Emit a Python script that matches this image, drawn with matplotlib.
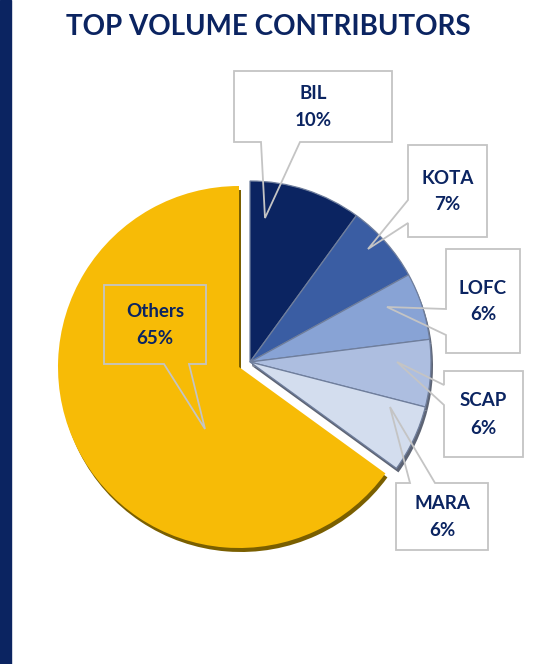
import matplotlib.pyplot as plt
from matplotlib.patches import Polygon, Rectangle

W, H = 556, 664

# data
labels = ["BIL", "KOTA", "LOFC", "SCAP", "MARA", "Others"]
shares = [10, 7, 6, 6, 6, 65]
colors = ["#0b2461", "#3a5da3", "#88a3d5", "#adbee0", "#d3ddee", "#f7bb06"]
shadow_colors = ["#5d6474"] * 5 + ["#7a5f00"]

NAVY = "#0b2461"
EDGE = "#c4c4c4"
FONT = "Lato"

# layout in pixel coords (y down): box (x0, y0, x1, y1), pointer side, pointer base, tip
callouts = {
    "BIL": dict(box=(234, 71, 392, 142), side="bottom", base=(261, 300), tip=(265, 218)),
    "KOTA": dict(box=(408, 145, 487, 237), side="left", base=(200, 223), tip=(368, 249)),
    "LOFC": dict(box=(446, 249, 520, 353), side="left", base=(309, 335), tip=(387, 307)),
    "SCAP": dict(box=(444, 371, 523, 457), side="left", base=(385, 405), tip=(397, 362)),
    "MARA": dict(box=(396, 483, 488, 550), side="top", base=(410, 435), tip=(390, 407)),
    "Others": dict(box=(104, 285, 206, 364), side="bottom", base=(164, 189), tip=(205, 429)),
}


def px(x, y):
    return x, H - y


fig = plt.figure(figsize=(W / 100, H / 100), dpi=100)
fig.patch.set_facecolor("white")
ax = fig.add_axes([0, 0, 1, 1])

# left navy strip
ax.add_patch(Rectangle((0, 0), 11, H, color=NAVY, zorder=0))

yellow_c = px(239, 367)
blue_c = px(250, 362)
R = 181


def draw_pie(offset, cols, z, lw, ec):
    wedges, _ = ax.pie(shares, colors=cols, startangle=90, counterclock=False,
                       radius=R, center=(0, 0),
                       wedgeprops=dict(linewidth=lw, edgecolor=ec))
    for lab, w in zip(labels, wedges):
        c = yellow_c if lab == "Others" else blue_c
        w.set_center((c[0] + offset[0], c[1] + offset[1]))
        w.set_zorder(z)
        if lab == "Others":
            w.set_linewidth(0)
    return wedges


draw_pie((2, -4), shadow_colors, 1, 0, "none")
draw_pie((0, 0), colors, 2, 0.9, "#6f7e9c")

ax.set_xlim(0, W)
ax.set_ylim(0, H)
ax.set_aspect("equal")
ax.axis("off")

# callouts
for lab, share in zip(labels, shares):
    c = callouts[lab]
    x0, y0, x1, y1 = c["box"]
    b0, b1 = c["base"]
    tip = c["tip"]
    if c["side"] == "bottom":
        pts = [(x0, y0), (x1, y0), (x1, y1), (b1, y1), tip, (b0, y1), (x0, y1)]
    elif c["side"] == "left":
        pts = [(x0, y0), (x1, y0), (x1, y1), (x0, y1), (x0, b1), tip, (x0, b0)]
    else:
        pts = [(x0, y0), (b0, y0), tip, (b1, y0), (x1, y0), (x1, y1), (x0, y1)]
    ax.add_patch(Polygon([px(*p) for p in pts], closed=True, fill=False,
                         edgecolor=EDGE, linewidth=1.3, zorder=5))
    cx = (x0 + x1) / 2
    cy = (y0 + y1) / 2
    ax.text(*px(cx, cy - 13), lab, ha="center", va="center", fontsize=13.5,
            fontweight="bold", color=NAVY, family=FONT, zorder=6)
    ax.text(*px(cx, cy + 14), f"{share}%", ha="center", va="center", fontsize=13.5,
            fontweight="bold", color=NAVY, family=FONT, zorder=6)

ax.text(*px(268, 27), "TOP VOLUME CONTRIBUTORS", ha="center", va="center",
        fontsize=20, fontweight="bold", color=NAVY, family=FONT)

fig.savefig("out.png", dpi=100)
